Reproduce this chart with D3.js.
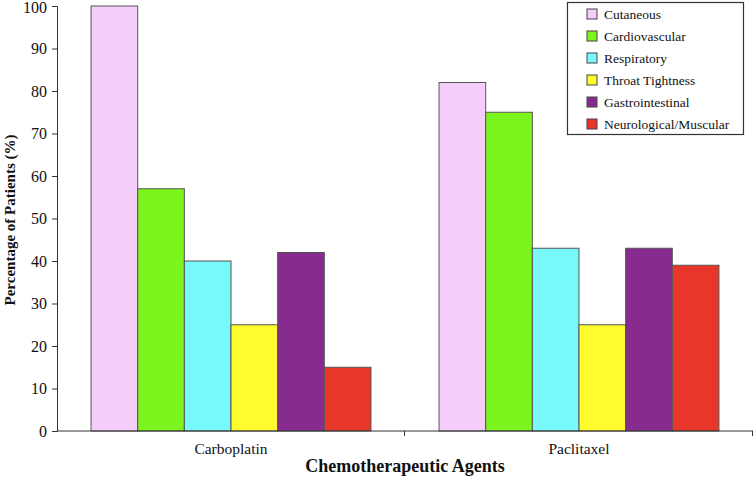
<!DOCTYPE html>
<html>
<head>
<meta charset="utf-8">
<script src="https://cdn.jsdelivr.net/npm/d3@7"></script>
<style>
  body { margin: 0; background: #fff; }
  svg { display: block; }
  text { font-family: "Liberation Serif", "Times New Roman", serif; fill: #111; }
</style>
</head>
<body>
<svg id="chart" width="755" height="478"></svg>
<script>
const categories = ["Carboplatin", "Paclitaxel"];
const seriesNames = ["Cutaneous", "Cardiovascular", "Respiratory", "Throat Tightness", "Gastrointestinal", "Neurological/Muscular"];
const seriesColors = ["#F5CDFB", "#7CF41E", "#77F8FA", "#FFFB2C", "#882B8F", "#E8362A"];
const carboplatinValues = [100, 57, 40, 25, 42, 15];
const paclitaxelValues = [82, 75, 43, 25, 43, 39];
const yTicks = [0, 10, 20, 30, 40, 50, 60, 70, 80, 90, 100];

const valuesByCategory = { "Carboplatin": carboplatinValues, "Paclitaxel": paclitaxelValues };

const svg = d3.select("#chart");
const margin = { left: 57, right: 2, top: 6, bottom: 47 };
const W = 755, H = 478;
const plotBottom = H - margin.bottom;

const x0 = d3.scaleBand().domain(categories).range([margin.left, W - margin.right]).paddingInner(0).paddingOuter(0);
const x1 = d3.scaleBand().domain(seriesNames).range([0, x0.bandwidth()]).paddingInner(0).paddingOuter(0.73);
const y = d3.scaleLinear().domain([0, 100]).range([plotBottom, margin.top]);
const color = d3.scaleOrdinal().domain(seriesNames).range(seriesColors);

// bars
const groups = svg.append("g").selectAll("g").data(categories).join("g")
  .attr("transform", d => `translate(${x0(d)},0)`);
groups.selectAll("rect")
  .data(c => seriesNames.map((s, i) => ({ s, v: valuesByCategory[c][i] })))
  .join("rect")
  .attr("x", d => x1(d.s))
  .attr("y", d => y(d.v))
  .attr("width", x1.bandwidth())
  .attr("height", d => plotBottom - y(d.v))
  .attr("fill", d => color(d.s))
  .attr("stroke", "#555")
  .attr("stroke-width", 1);

// y axis
const yAxis = svg.append("g")
  .attr("transform", `translate(${margin.left},0)`)
  .call(d3.axisLeft(y).tickValues(yTicks).tickSize(5).tickPadding(5).tickFormat(d3.format("d")));
yAxis.selectAll("text")
  .style("font-size", "16px")
  .style("font-family", "'Liberation Serif', serif")
  .attr("fill", "#111")
  .attr("dy", d => d === 100 ? "0.42em" : "0.32em");
yAxis.selectAll("line, path").attr("stroke", "#333");

// x axis: ticks at category boundaries
const boundaries = [margin.left, ...categories.map(c => x0(c) + x0.bandwidth())];
const xAxisG = svg.append("g");
xAxisG.append("line")
  .attr("x1", margin.left).attr("x2", W - margin.right)
  .attr("y1", plotBottom).attr("y2", plotBottom)
  .attr("stroke", "#333");
xAxisG.selectAll("line.tick").data(boundaries.slice(1)).join("line")
  .attr("class", "tick")
  .attr("x1", d => d - 0.5).attr("x2", d => d - 0.5)
  .attr("y1", plotBottom).attr("y2", plotBottom + 5)
  .attr("stroke", "#333");
xAxisG.selectAll("text").data(categories).join("text")
  .attr("x", d => x0(d) + x0.bandwidth() / 2)
  .attr("y", plotBottom + 22.5)
  .attr("text-anchor", "middle")
  .style("font-size", "15.5px")
  .text(d => d);

// axis titles
svg.append("text")
  .attr("x", (margin.left + W - margin.right) / 2)
  .attr("y", 472)
  .attr("text-anchor", "middle")
  .style("font-size", "18px")
  .style("font-weight", "bold")
  .text("Chemotherapeutic Agents");

svg.append("text")
  .attr("transform", `translate(14.5, 220) rotate(-90)`)
  .attr("text-anchor", "middle")
  .style("font-size", "15px")
  .style("font-weight", "bold")
  .text("Percentage of Patients (%)");

// legend
const legend = svg.append("g");
legend.append("rect")
  .attr("x", 567.5).attr("y", 2.5).attr("width", 176).attr("height", 132)
  .attr("fill", "#fff").attr("stroke", "#333").attr("stroke-width", 1.2);
const items = legend.selectAll("g.item").data(seriesNames).join("g")
  .attr("class", "item")
  .attr("transform", (d, i) => `translate(587, ${14 + i * 22})`);
items.append("rect")
  .attr("x", 0).attr("y", -5).attr("width", 10).attr("height", 10)
  .attr("fill", d => color(d)).attr("stroke", "#444");
items.append("text")
  .attr("x", 17).attr("y", 4.5)
  .style("font-size", "13.5px")
  .text(d => d);
</script>
</body>
</html>
